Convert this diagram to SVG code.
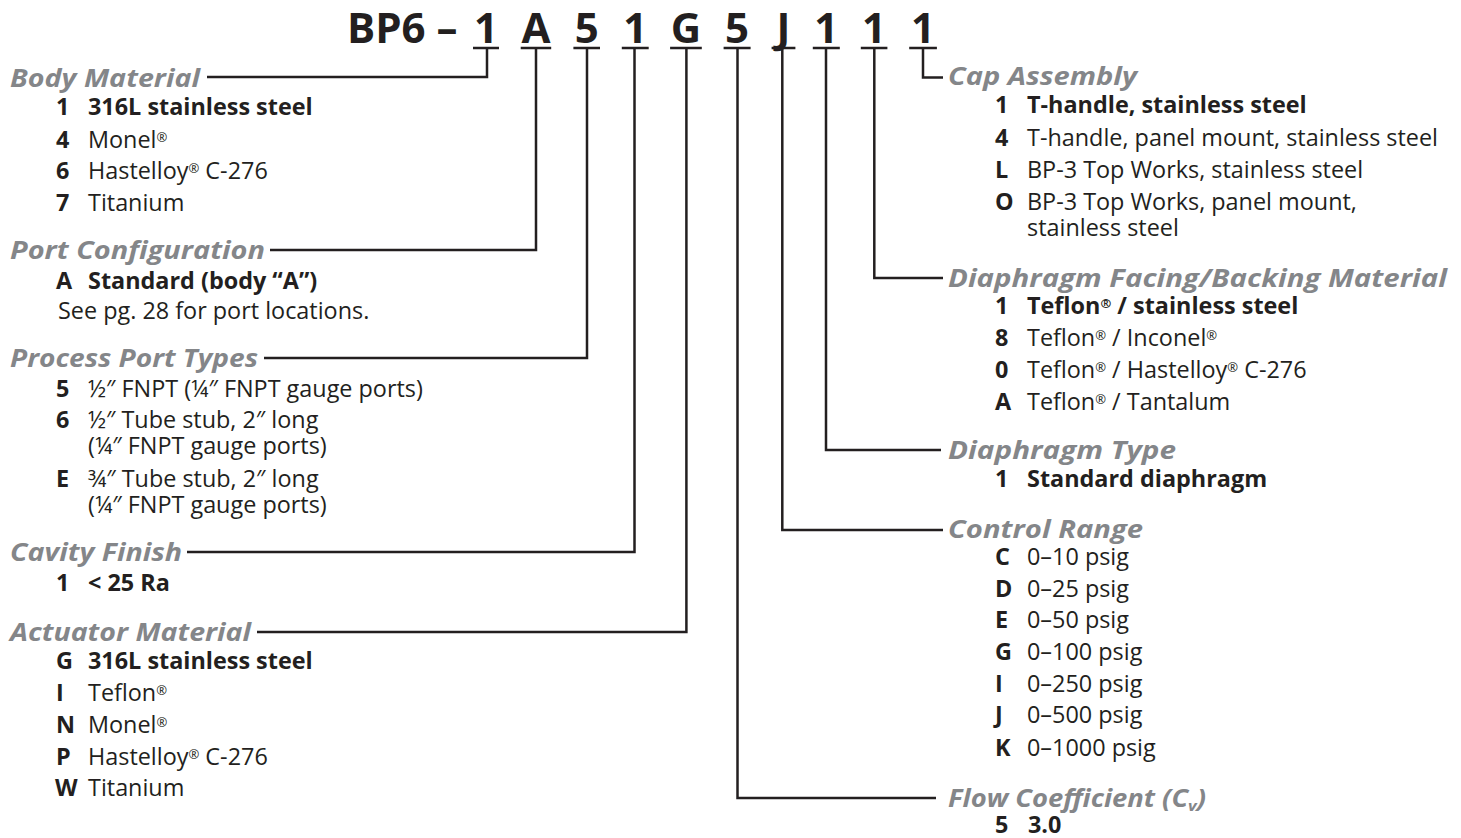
<svg xmlns="http://www.w3.org/2000/svg" width="1461" height="838" viewBox="0 0 1461 838">
<style>
.t{font-family:"Open Sans","Liberation Sans",sans-serif;font-size:23.4px;fill:#231f20}
.b{font-weight:bold}
.r{font-size:13px;baseline-shift:45%}
.h{font-family:"Open Sans","Liberation Sans",sans-serif;font-size:24.5px;font-weight:bold;font-style:italic;fill:#848689}
.ti{font-family:"Open Sans","Liberation Sans",sans-serif;font-size:42px;font-weight:bold;fill:#231f20}
.c{fill:none;stroke:#231f20;stroke-width:2.5}
</style>
<rect width="1461" height="838" fill="#ffffff"/>
<g id="title">
<text class="ti" x="347" y="43">BP6 –</text>
<g text-anchor="middle">
<text class="ti" x="486" y="43">1</text>
<text class="ti" x="536" y="43">A</text>
<text class="ti" x="586.7" y="43">5</text>
<text class="ti" x="635.3" y="43">1</text>
<text class="ti" x="686" y="43">G</text>
<text class="ti" x="737" y="43">5</text>
<text class="ti" x="783.5" y="43">J</text>
<text class="ti" x="826.3" y="43">1</text>
<text class="ti" x="874.1" y="43">1</text>
<text class="ti" x="923" y="43">1</text>
</g>
</g>
<g id="connectors" class="c">
<path d="M473 48H499M520.7 48H551.2M573.4 48H600M621.8 48H648.7M670.1 48H701.8M723.6 48H750.6M771.6 48H795.4M812.8 48H839.8M860.8 48H887.4M909.2 48H936.9"/>
<path d="M487 48V77H207"/>
<path d="M536 48V250H270"/>
<path d="M587 48V358H264"/>
<path d="M634.5 48V552H187"/>
<path d="M686.4 48V632H257"/>
<path d="M737.5 48V798H936"/>
<path d="M782.3 48V530H943"/>
<path d="M826 48V450H941"/>
<path d="M874.3 48V278H943"/>
<path d="M923 48V77.5H943"/>
</g>
<g id="body-material">
<text class="h" x="10" y="87" textLength="190" lengthAdjust="spacingAndGlyphs">Body Material</text>
<text class="t b" x="56" y="115">1</text><text class="t b" x="88" y="115">316L stainless steel</text>
<text class="t b" x="56" y="148">4</text><text class="t" x="88" y="148">Monel<tspan class="r">®</tspan></text>
<text class="t b" x="56" y="179">6</text><text class="t" x="88" y="179">Hastelloy<tspan class="r">®</tspan> C-276</text>
<text class="t b" x="56" y="211">7</text><text class="t" x="88" y="211">Titanium</text>
</g>
<g id="port-configuration">
<text class="h" x="10" y="259" textLength="255" lengthAdjust="spacingAndGlyphs">Port Configuration</text>
<text class="t b" x="56" y="289">A</text><text class="t b" x="88" y="289">Standard (body “A”)</text>
<text class="t" x="58" y="319">See pg. 28 for port locations.</text>
</g>
<g id="process-port-types">
<text class="h" x="10" y="367" textLength="248" lengthAdjust="spacingAndGlyphs">Process Port Types</text>
<text class="t b" x="56" y="397">5</text><text class="t" x="88" y="397">½″ FNPT (¼″ FNPT gauge ports)</text>
<text class="t b" x="56" y="428">6</text><text class="t" x="88" y="428">½″ Tube stub, 2″ long</text>
<text class="t" x="88" y="454">(¼″ FNPT gauge ports)</text>
<text class="t b" x="56" y="487">E</text><text class="t" x="88" y="487">¾″ Tube stub, 2″ long</text>
<text class="t" x="88" y="513">(¼″ FNPT gauge ports)</text>
</g>
<g id="cavity-finish">
<text class="h" x="10" y="561" textLength="172" lengthAdjust="spacingAndGlyphs">Cavity Finish</text>
<text class="t b" x="56" y="591">1</text><text class="t b" x="88" y="591">&lt; 25 Ra</text>
</g>
<g id="actuator-material">
<text class="h" x="10" y="641" textLength="241" lengthAdjust="spacingAndGlyphs">Actuator Material</text>
<text class="t b" x="56" y="669">G</text><text class="t b" x="88" y="669">316L stainless steel</text>
<text class="t b" x="56" y="701">I</text><text class="t" x="88" y="701">Teflon<tspan class="r">®</tspan></text>
<text class="t b" x="56" y="733">N</text><text class="t" x="88" y="733">Monel<tspan class="r">®</tspan></text>
<text class="t b" x="56" y="765">P</text><text class="t" x="88" y="765">Hastelloy<tspan class="r">®</tspan> C-276</text>
<text class="t b" x="55" y="796">W</text><text class="t" x="88" y="796">Titanium</text>
</g>
<g id="cap-assembly">
<text class="h" x="948" y="85" textLength="189" lengthAdjust="spacingAndGlyphs">Cap Assembly</text>
<text class="t b" x="995" y="113">1</text><text class="t b" x="1027" y="113">T-handle, stainless steel</text>
<text class="t b" x="995" y="146">4</text><text class="t" x="1027" y="146">T-handle, panel mount, stainless steel</text>
<text class="t b" x="995" y="178">L</text><text class="t" x="1027" y="178">BP-3 Top Works, stainless steel</text>
<text class="t b" x="995" y="210">O</text><text class="t" x="1027" y="210">BP-3 Top Works, panel mount,</text>
<text class="t" x="1027" y="236">stainless steel</text>
</g>
<g id="diaphragm-facing">
<text class="h" x="948" y="287" textLength="499" lengthAdjust="spacingAndGlyphs">Diaphragm Facing/Backing Material</text>
<text class="t b" x="995" y="314">1</text><text class="t b" x="1027" y="314">Teflon<tspan class="r">®</tspan> / stainless steel</text>
<text class="t b" x="995" y="346">8</text><text class="t" x="1027" y="346">Teflon<tspan class="r">®</tspan> / Inconel<tspan class="r">®</tspan></text>
<text class="t b" x="995" y="378">0</text><text class="t" x="1027" y="378">Teflon<tspan class="r">®</tspan> / Hastelloy<tspan class="r">®</tspan> C-276</text>
<text class="t b" x="995" y="410">A</text><text class="t" x="1027" y="410">Teflon<tspan class="r">®</tspan> / Tantalum</text>
</g>
<g id="diaphragm-type">
<text class="h" x="948" y="459" textLength="228" lengthAdjust="spacingAndGlyphs">Diaphragm Type</text>
<text class="t b" x="995" y="487">1</text><text class="t b" x="1027" y="487">Standard diaphragm</text>
</g>
<g id="control-range">
<text class="h" x="948" y="538" textLength="195" lengthAdjust="spacingAndGlyphs">Control Range</text>
<text class="t b" x="995" y="565">C</text><text class="t" x="1027" y="565">0–10 psig</text>
<text class="t b" x="995" y="597">D</text><text class="t" x="1027" y="597">0–25 psig</text>
<text class="t b" x="995" y="628">E</text><text class="t" x="1027" y="628">0–50 psig</text>
<text class="t b" x="995" y="660">G</text><text class="t" x="1027" y="660">0–100 psig</text>
<text class="t b" x="995" y="692">I</text><text class="t" x="1027" y="692">0–250 psig</text>
<text class="t b" x="995" y="723">J</text><text class="t" x="1027" y="723">0–500 psig</text>
<text class="t b" x="995" y="756">K</text><text class="t" x="1027" y="756">0–1000 psig</text>
</g>
<g id="flow-coefficient">
<text class="h" x="948" y="807" textLength="258" lengthAdjust="spacingAndGlyphs">Flow Coefficient (C<tspan font-size="15" dy="4">v</tspan><tspan dy="-4">)</tspan></text>
<text class="t b" x="995" y="833">5</text><text class="t b" x="1028" y="833">3.0</text>
</g>
</svg>
